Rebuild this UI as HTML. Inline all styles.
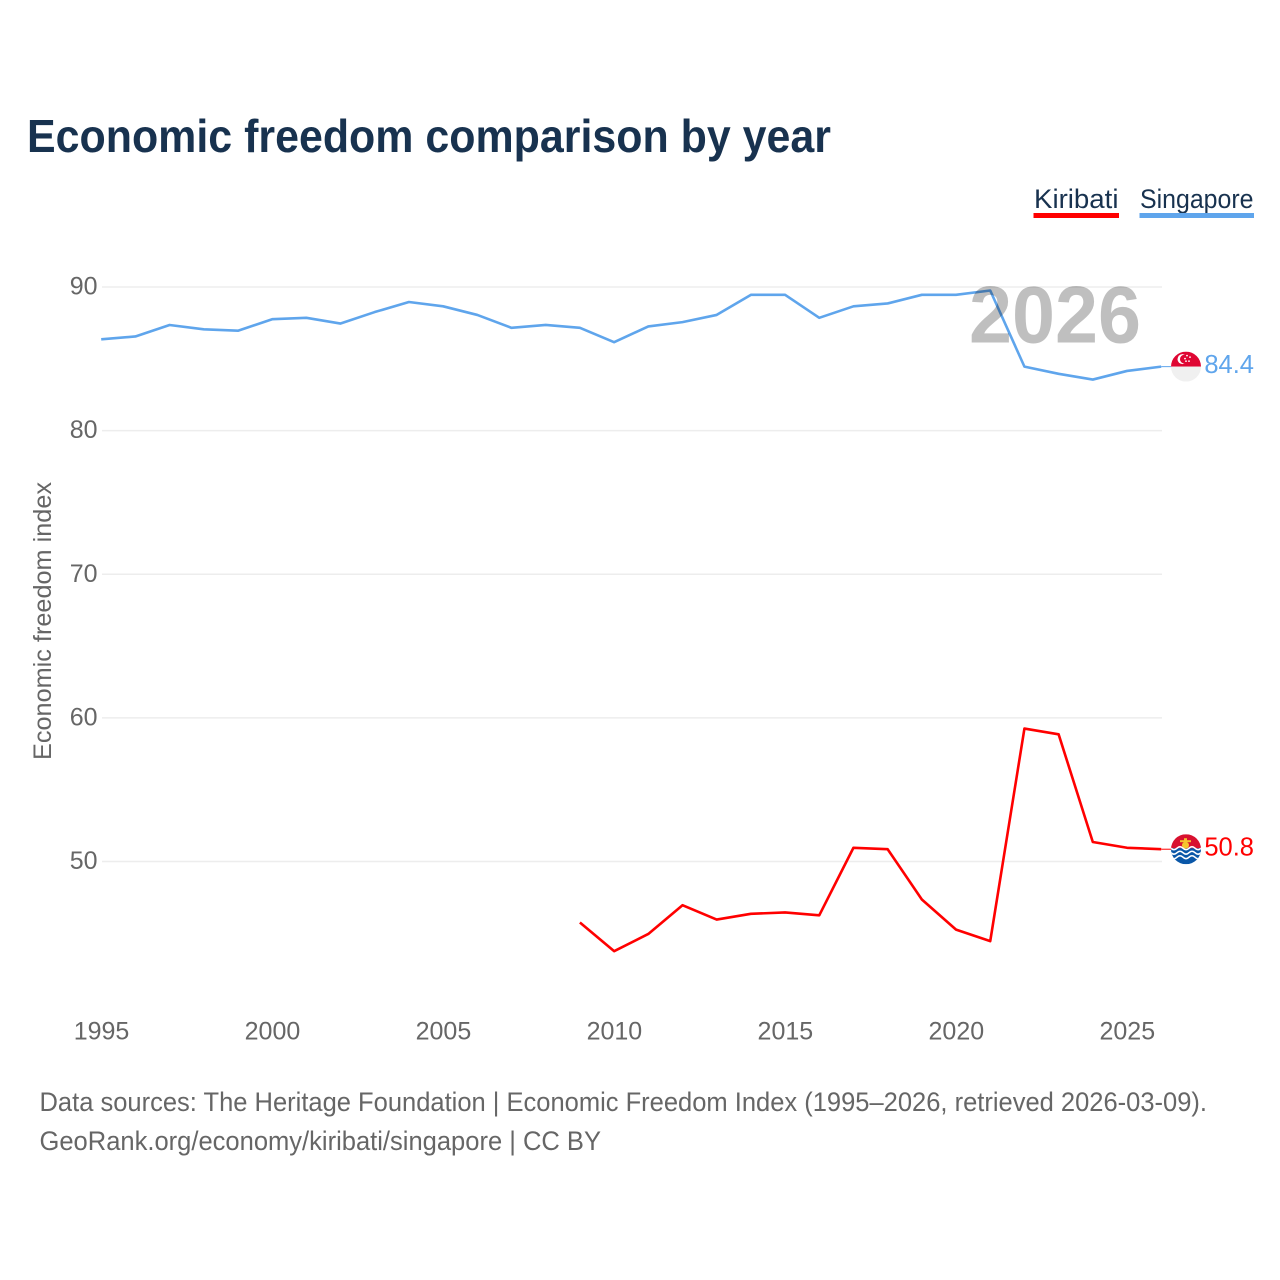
<!DOCTYPE html>
<html lang="en">
<head>
<meta charset="utf-8">
<title>Economic freedom comparison by year</title>
<style>
html,body{margin:0;padding:0;background:#fff;}
svg{display:block;font-family:"Liberation Sans",sans-serif;}
</style>
</head>
<body>
<svg id="chart" xmlns="http://www.w3.org/2000/svg" width="1280" height="1280" viewBox="0 0 1280 1280">
  <rect x="0" y="0" width="1280" height="1280" fill="#ffffff"/>
  <text x="27" y="152" font-size="46" font-weight="700" fill="#18324f" textLength="804" lengthAdjust="spacingAndGlyphs">Economic freedom comparison by year</text>

  <g>
    <text x="1034" y="208" font-size="27" fill="#18324f" textLength="84.500" lengthAdjust="spacingAndGlyphs">Kiribati</text>
    <rect x="1033.500" y="213" width="85.500" height="5" fill="#ff0000"/>
  </g>
  <g>
    <text x="1140" y="208" font-size="27" fill="#18324f" textLength="113.500" lengthAdjust="spacingAndGlyphs">Singapore</text>
    <rect x="1139.500" y="213" width="114.500" height="5" fill="#5fa5ec"/>
  </g>

  <g id="grid"></g>
  <g id="yticks" transform="translate(-0.500 -1)"></g>
  <g id="xticks" transform="translate(-0.500 -0.500)"></g>
  <text transform="translate(51 621) rotate(-90)" text-anchor="middle" font-size="25" fill="#666666" textLength="278" lengthAdjust="spacingAndGlyphs">Economic freedom index</text>

  <g id="series" transform="translate(-0.800 -0.800)"></g>
  <text id="year-watermark" x="969" y="342.500" font-size="81" font-weight="700" fill="#000000" fill-opacity="0.25" textLength="172" lengthAdjust="spacingAndGlyphs"></text>

  <defs>
    <clipPath id="flag-clip"><circle cx="0" cy="0" r="15"/></clipPath>
  </defs>
  <g id="flag-singapore" clip-path="url(#flag-clip)">
    <rect x="-15" y="-15" width="30" height="15" fill="#df0633"/>
    <rect x="-15" y="0" width="30" height="15" fill="#f0f0f0"/>
    <circle cx="-3.500" cy="-7.500" r="5" fill="#ffffff"/>
    <circle cx="-1.500" cy="-7.500" r="4.500" fill="#df0633"/>
    <circle cx="1" cy="-11" r="0.900" fill="#ffffff"/>
    <circle cx="4" cy="-9.500" r="0.900" fill="#ffffff"/>
    <circle cx="-1" cy="-8" r="0.900" fill="#ffffff"/>
    <circle cx="3" cy="-5.500" r="0.900" fill="#ffffff"/>
    <circle cx="0" cy="-5.500" r="0.900" fill="#ffffff"/>
  </g>
  <g id="flag-kiribati" clip-path="url(#flag-clip)">
    <rect x="-15" y="-15" width="30" height="15" fill="#d8112f"/>
    <rect x="-15" y="-1" width="30" height="16" fill="#0a57a8"/>
    <circle cx="-0.500" cy="-4" r="3.500" fill="#f7c52e"/>
    <rect x="-6" y="-9" width="11" height="2" fill="#f7c52e"/>
    <rect x="-2" y="-11" width="3" height="3" fill="#f7c52e"/>
    <path d="M-15 -1 Q-12 2 -9 -1 T-3 -1 T3 -1 T9 -1 T15 -1" fill="none" stroke="#ffffff" stroke-width="1.500"/>
    <path d="M-15 3.500 Q-12 6.500 -9 3.500 T-3 3.500 T3 3.500 T9 3.500 T15 3.500" fill="none" stroke="#ffffff" stroke-width="1.500"/>
    <path d="M-15 8 Q-12 11 -9 8 T-3 8 T3 8 T9 8 T15 8" fill="none" stroke="#ffffff" stroke-width="1.500"/>
  </g>
  <g id="value-labels"></g>

  <text x="39.500" y="1111" font-size="26.500" fill="#666666" textLength="1167.500" lengthAdjust="spacingAndGlyphs">Data sources: The Heritage Foundation | Economic Freedom Index (1995–2026, retrieved 2026-03-09).</text>
  <text x="39.500" y="1150" font-size="26.500" fill="#666666" textLength="561.500" lengthAdjust="spacingAndGlyphs">GeoRank.org/economy/kiribati/singapore | CC BY</text>
</svg>
<script>
const years = [1995,1996,1997,1998,1999,2000,2001,2002,2003,2004,2005,2006,2007,2008,2009,2010,2011,2012,2013,2014,2015,2016,2017,2018,2019,2020,2021,2022,2023,2024,2025,2026];
const singaporeValues = [86.3,86.5,87.3,87.0,86.9,87.7,87.8,87.4,88.2,88.9,88.6,88.0,87.1,87.3,87.1,86.1,87.2,87.5,88.0,89.4,89.4,87.8,88.6,88.8,89.4,89.4,89.7,84.4,83.9,83.5,84.1,84.4];
const kiribatiValues = [null,null,null,null,null,null,null,null,null,null,null,null,null,null,45.7,43.7,44.9,46.9,45.9,46.3,46.4,46.2,50.9,50.8,47.3,45.2,44.4,59.2,58.8,51.3,50.9,50.8];
const yTickValues = [50,60,70,80,90];
const xTickValues = [1995,2000,2005,2010,2015,2020,2025];

const NS = 'http://www.w3.org/2000/svg';
const xScale = function (year) { return 102 + (year - 1995) * (1162 - 102) / (2026 - 1995); };
const yScale = function (value) { return 861.500 - (value - 50) * (861.500 - 287) / (90 - 50); };

function make(tag, parentId) {
  const el = document.createElementNS(NS, tag);
  document.getElementById(parentId).appendChild(el);
  return el;
}

yTickValues.forEach(function (tick) {
  const line = make('line', 'grid');
  
  
  line.setAttribute('x1', xScale(1995));
  line.setAttribute('x2', xScale(2026));
  line.setAttribute('y1', yScale(tick));
  line.setAttribute('y2', yScale(tick));
  line.setAttribute('stroke', '#ededed');
  line.setAttribute('stroke-width', '1.500');

  const label = make('text', 'yticks');
  
  
  label.setAttribute('x', 98);
  label.setAttribute('y', yScale(tick) + 8.500);
  label.setAttribute('text-anchor', 'end');
  label.setAttribute('font-size', '25');
  label.setAttribute('fill', '#666666');
  label.textContent = tick;
});

xTickValues.forEach(function (tick) {
  const label = make('text', 'xticks');
  
  
  label.setAttribute('x', xScale(tick));
  label.setAttribute('y', 1040);
  label.setAttribute('text-anchor', 'middle');
  label.setAttribute('font-size', '25');
  label.setAttribute('fill', '#666666');
  label.textContent = tick;
});

function pathFor(values) {
  let d = '';
  values.forEach(function (value, i) {
    if (value === null) return;
    d += (d === '' ? 'M' : 'L') + xScale(years[i]).toFixed(2) + ' ' + yScale(value).toFixed(2) + ' ';
  });
  return d.trim();
}

const singaporeLine = make('path', 'series');


singaporeLine.setAttribute('d', pathFor(singaporeValues));
singaporeLine.setAttribute('fill', 'none');
singaporeLine.setAttribute('stroke', '#5fa5ec');
singaporeLine.setAttribute('stroke-width', '2.600');
singaporeLine.setAttribute('stroke-linejoin', 'round');

const kiribatiLine = make('path', 'series');


kiribatiLine.setAttribute('d', pathFor(kiribatiValues));
kiribatiLine.setAttribute('fill', 'none');
kiribatiLine.setAttribute('stroke', '#ff0000');
kiribatiLine.setAttribute('stroke-width', '2.600');
kiribatiLine.setAttribute('stroke-linejoin', 'round');

const lastYear = years[years.length - 1];
document.getElementById('year-watermark').textContent = lastYear;

const singaporeLast = singaporeValues[singaporeValues.length - 1];
const kiribatiLast = kiribatiValues[kiribatiValues.length - 1];

const singaporeConnector = make('line', 'series');


singaporeConnector.setAttribute('x1', xScale(lastYear));
singaporeConnector.setAttribute('x2', xScale(lastYear) + 10);
singaporeConnector.setAttribute('y1', yScale(singaporeLast));
singaporeConnector.setAttribute('y2', yScale(singaporeLast));
singaporeConnector.setAttribute('stroke', '#5fa5ec');
singaporeConnector.setAttribute('stroke-width', '1');

const kiribatiConnector = make('line', 'series');


kiribatiConnector.setAttribute('x1', xScale(lastYear));
kiribatiConnector.setAttribute('x2', xScale(lastYear) + 10);
kiribatiConnector.setAttribute('y1', yScale(kiribatiLast));
kiribatiConnector.setAttribute('y2', yScale(kiribatiLast));
kiribatiConnector.setAttribute('stroke', '#ff0000');
kiribatiConnector.setAttribute('stroke-width', '1');

document.getElementById('flag-singapore').setAttribute('transform', 'translate(' + (xScale(lastYear) + 24) + ' ' + (yScale(singaporeLast) - 0.800) + ')');
document.getElementById('flag-kiribati').setAttribute('transform', 'translate(' + (xScale(lastYear) + 24) + ' ' + (yScale(kiribatiLast) - 0.800) + ')');

const singaporeValueLabel = make('text', 'value-labels');


singaporeValueLabel.setAttribute('x', 1254);
singaporeValueLabel.setAttribute('y', yScale(singaporeLast) + 5.500);
singaporeValueLabel.setAttribute('text-anchor', 'end');
singaporeValueLabel.setAttribute('font-size', '25.500');
singaporeValueLabel.setAttribute('fill', '#5fa5ec');
singaporeValueLabel.textContent = singaporeLast.toFixed(1);

const kiribatiValueLabel = make('text', 'value-labels');


kiribatiValueLabel.setAttribute('x', 1254);
kiribatiValueLabel.setAttribute('y', yScale(kiribatiLast) + 5.500);
kiribatiValueLabel.setAttribute('text-anchor', 'end');
kiribatiValueLabel.setAttribute('font-size', '25.500');
kiribatiValueLabel.setAttribute('fill', '#ff0000');
kiribatiValueLabel.textContent = kiribatiLast.toFixed(1);
</script>
</body>
</html>
